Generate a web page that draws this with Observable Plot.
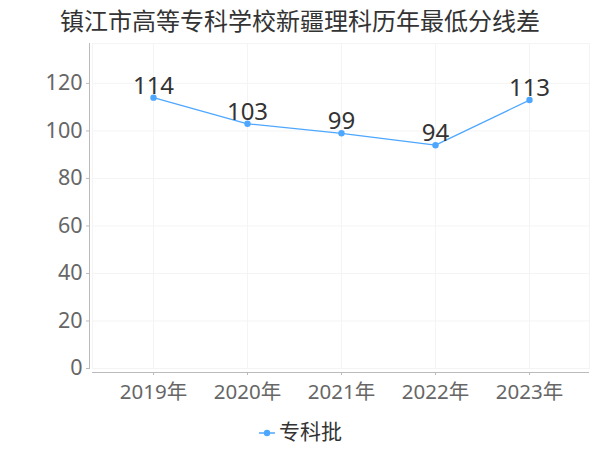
<!DOCTYPE html>
<html><head><meta charset="utf-8">
<script src="https://cdn.jsdelivr.net/npm/d3@7"></script>
<script src="https://cdn.jsdelivr.net/npm/@observablehq/plot@0.6"></script>
<style>
body{margin:0;background:#fff;font-family:"Noto Sans","Noto Sans CJK SC",sans-serif;}
#wrap{width:600px;height:450px;position:relative;overflow:hidden;}
#title{height:40px;line-height:40px;text-align:center;font-size:24px;color:#333;font-family:"Noto Sans CJK SC",sans-serif;}
#legend{position:absolute;top:415px;left:0;width:600px;text-align:center;font-size:21px;color:#333;font-family:"Noto Sans CJK SC",sans-serif;}
#legend svg{vertical-align:middle;margin-right:3px;}
</style></head>
<body><div id="wrap">
<div id="title">镇江市高等专科学校新疆理科历年最低分线差</div>
<div id="chart"></div>
<div id="legend"></div>
</div>
<script>
const years = ["2019年","2020年","2021年","2022年","2023年"];
const values = [114, 103, 99, 94, 113];
const seriesName = "专科批";
const yTicks = [0, 20, 40, 60, 80, 100, 120];
const color = "#4ea7ff";

const data = years.map((y, i) => ({year: y, value: values[i]}));

const chart = Plot.plot({
  width: 600,
  height: 372,
  marginTop: 3,
  marginBottom: 44,
  marginLeft: 92,
  marginRight: 11,
  style: {fontFamily: '"Noto Sans","Noto Sans CJK SC",sans-serif', background: "#fff"},
  x: {type: "point", domain: years, padding: 0.636},
  y: {domain: [0, 136.8], ticks: yTicks},
  marks: [
    Plot.frame({stroke: "#f4f4f4"}),
    Plot.gridX({stroke: "#f4f4f4", strokeOpacity: 1}),
    Plot.gridY(yTicks, {stroke: "#f4f4f4", strokeOpacity: 1}),
    Plot.frame({anchor: "left", dx: -3, stroke: "#bbb"}),
    Plot.ruleY([0], {dy: 4, stroke: "#bbb"}),
    Plot.axisY(yTicks, {dx: -3, tickSize: 3, tickPadding: 4, fontSize: 21.5, color: "#666", stroke: "#bbb", label: null}),
    Plot.axisX({dy: 4, tickSize: 3, tickPadding: 9, fontSize: 20.5, color: "#666", stroke: "#bbb", label: null}),
    Plot.line(data, {x: "year", y: "value", stroke: color, strokeWidth: 1.3}),
    Plot.dot(data, {x: "year", y: "value", r: 3.2, fill: color}),
    Plot.text(data, {x: "year", y: "value", text: d => String(d.value), dy: -4, lineAnchor: "bottom", fontSize: 24, fill: "#333"})
  ]
});
document.getElementById("chart").appendChild(chart);

const lg = document.getElementById("legend");
const s = d3.create("svg").attr("width", 18).attr("height", 10);
s.append("line").attr("x1", 1).attr("x2", 17).attr("y1", 5).attr("y2", 5).attr("stroke", color).attr("stroke-width", 1.5);
s.append("circle").attr("cx", 9).attr("cy", 5).attr("r", 3.2).attr("fill", color);
lg.appendChild(s.node());
const sp = document.createElement("span");
sp.textContent = seriesName;
lg.appendChild(sp);
</script>
</body></html>
